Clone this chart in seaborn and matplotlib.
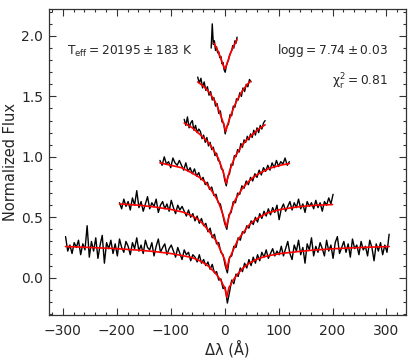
import numpy as np
import pandas as pd
import matplotlib
matplotlib.use("Agg")
import matplotlib.pyplot as plt
from matplotlib.ticker import MultipleLocator
import seaborn as sns

# wavelength grids of the observed lines (start, stop, number of pixels)
grid_h1 = (-295, 305, 151)
grid_h2 = (-195, 201, 100)
grid_h3 = (-120, 120, 61)
grid_h4 = (-75, 75, 51)
grid_h5 = (-50, 49, 34)
grid_h6 = (-25, 23, 25)

# observed normalized flux (offset for display), bottom line first
obs_h1 = [0.34, 0.22, 0.27, 0.20, 0.29, 0.25, 0.31, 0.19, 0.28, 0.23,
          0.43, 0.17, 0.30, 0.22, 0.33, 0.16, 0.27, 0.35, 0.12, 0.29,
          0.24, 0.31, 0.20, 0.28, 0.18, 0.32, 0.25, 0.21, 0.30, 0.26,
          0.19, 0.29, 0.24, 0.33, 0.22, 0.27, 0.20, 0.31, 0.25, 0.23,
          0.29, 0.18, 0.26, 0.32, 0.21, 0.25, 0.28, 0.19, 0.24, 0.27,
          0.22, 0.17, 0.25, 0.20, 0.15, 0.23, 0.19, 0.21, 0.14, 0.19,
          0.17, 0.13, 0.19, 0.12, 0.15, 0.10, 0.13, 0.07, 0.11, 0.04,
          0.05, -0.02, -0.01, -0.09, -0.08, -0.21, -0.12, -0.02, -0.05, 0.03,
          0.01, 0.08, 0.05, 0.12, 0.08, 0.15, 0.10, 0.17, 0.12, 0.19,
          0.14, 0.21, 0.17, 0.23, 0.16, 0.20, 0.24, 0.18, 0.22, 0.19,
          0.26, 0.18, 0.24, 0.30, 0.20, 0.15, 0.27, 0.22, 0.31, 0.19,
          0.25, 0.12, 0.28, 0.23, 0.33, 0.18, 0.26, 0.21, 0.29, 0.24,
          0.18, 0.31, 0.22, 0.27, 0.16, 0.29, 0.34, 0.20, 0.25, 0.30,
          0.21, 0.28, 0.17, 0.32, 0.24, 0.27, 0.19, 0.30, 0.23, 0.26,
          0.18, 0.31, 0.25, 0.14, 0.28, 0.22, 0.29, 0.19, 0.27, 0.21, 0.36]
obs_h2 = [0.62, 0.57, 0.65, 0.59, 0.63, 0.56, 0.66, 0.60, 0.72, 0.58,
          0.63, 0.55, 0.61, 0.67, 0.57, 0.62, 0.59, 0.65, 0.54, 0.60,
          0.63, 0.57, 0.61, 0.55, 0.64, 0.58, 0.53, 0.60, 0.56, 0.59,
          0.55, 0.51, 0.56, 0.50, 0.53, 0.47, 0.51, 0.45, 0.49, 0.43,
          0.45, 0.38, 0.41, 0.33, 0.36, 0.28, 0.29, 0.21, 0.19, 0.10,
          0.04, 0.17, 0.18, 0.26, 0.25, 0.33, 0.31, 0.38, 0.37, 0.43,
          0.41, 0.47, 0.44, 0.50, 0.46, 0.53, 0.49, 0.55, 0.51, 0.57,
          0.52, 0.58, 0.54, 0.60, 0.48, 0.57, 0.61, 0.55, 0.59, 0.63,
          0.56, 0.62, 0.58, 0.65, 0.57, 0.61, 0.54, 0.63, 0.59, 0.62,
          0.57, 0.64, 0.58, 0.62, 0.55, 0.63, 0.60, 0.66, 0.61, 0.69]
obs_h3 = [0.97, 0.93, 1.00, 0.94, 0.96, 0.91, 0.99, 0.95, 0.93, 0.97,
          0.93, 0.89, 0.95, 0.88, 0.91, 0.86, 0.90, 0.84, 0.87, 0.81,
          0.83, 0.77, 0.79, 0.73, 0.75, 0.68, 0.69, 0.62, 0.61, 0.53,
          0.45, 0.40, 0.52, 0.54, 0.63, 0.62, 0.70, 0.69, 0.76, 0.74,
          0.80, 0.77, 0.83, 0.80, 0.86, 0.83, 0.89, 0.85, 0.91, 0.88,
          0.93, 0.89, 0.95, 0.91, 0.97, 0.92, 0.96, 0.94, 0.99, 0.93, 0.96]
obs_h4 = [1.31, 1.26, 1.33, 1.24, 1.28, 1.30, 1.22, 1.26, 1.20, 1.23,
          1.21, 1.15, 1.18, 1.12, 1.16, 1.09, 1.12, 1.06, 1.08, 1.01,
          1.03, 0.97, 0.96, 0.90, 0.89, 0.81, 0.76, 0.84, 0.86, 0.94,
          0.93, 1.01, 1.00, 1.06, 1.04, 1.11, 1.08, 1.14, 1.12, 1.17,
          1.14, 1.19, 1.16, 1.22, 1.18, 1.24, 1.20, 1.26, 1.23, 1.28, 1.30]
obs_h5 = [1.66, 1.61, 1.65, 1.57, 1.62, 1.55, 1.58, 1.51, 1.54, 1.47,
          1.49, 1.42, 1.44, 1.36, 1.38, 1.29, 1.28, 1.19, 1.25, 1.27,
          1.35, 1.34, 1.42, 1.41, 1.48, 1.47, 1.53, 1.50, 1.57, 1.54,
          1.60, 1.58, 1.64, 1.62]
obs_h6 = [1.90, 2.10, 1.93, 1.96, 1.88, 1.91, 1.86, 1.87, 1.82, 1.83,
          1.77, 1.78, 1.72, 1.70, 1.75, 1.78, 1.80, 1.84, 1.86, 1.88,
          1.92, 1.90, 1.96, 1.94, 1.99]

# best-fit model profiles
mod_x_h1 = [-295, -250, -200, -160, -130, -100, -75, -60, -50, -40, -30, -20, -15, -10,
            -6, -3, 0, 2, 4, 6, 8, 11, 14, 19, 24, 34, 44, 54, 64, 79, 104, 134, 164,
            204, 254, 305]
mod_y_h1 = [0.258, 0.25, 0.24, 0.228, 0.216, 0.20, 0.18, 0.165, 0.148, 0.125, 0.095,
            0.05, 0.025, -0.005, -0.03, -0.06, -0.08, -0.12, -0.16, -0.12, -0.08, -0.06,
            -0.03, 0.0, 0.03, 0.08, 0.115, 0.14, 0.16, 0.18, 0.20, 0.215, 0.228, 0.24,
            0.25, 0.258]
mod_x_h2 = [-195, -160, -130, -100, -75, -60, -50, -40, -30, -20, -15, -10, -6, -3, 0,
            2, 4, 6, 8, 11, 14, 19, 24, 34, 44, 54, 64, 79, 104, 134, 164, 200]
mod_y_h2 = [0.61, 0.60, 0.585, 0.565, 0.54, 0.51, 0.485, 0.445, 0.39, 0.33, 0.30, 0.25,
            0.21, 0.18, 0.15, 0.11, 0.07, 0.11, 0.15, 0.18, 0.21, 0.26, 0.31, 0.37, 0.43,
            0.47, 0.50, 0.535, 0.565, 0.585, 0.598, 0.605]
mod_x_h3 = [-120, -100, -80, -60, -45, -35, -25, -17, -12, -7, -3, 0, 3, 6, 9, 13, 18,
            23, 33, 43, 53, 63, 83, 103, 120]
mod_y_h3 = [0.95, 0.93, 0.91, 0.865, 0.825, 0.785, 0.725, 0.67, 0.63, 0.57, 0.52, 0.47,
            0.42, 0.47, 0.52, 0.57, 0.63, 0.67, 0.74, 0.79, 0.83, 0.86, 0.905, 0.93, 0.945]
mod_x_h4 = [-75, -60, -47, -37, -27, -17, -12, -7, -3, 0, 3, 6, 9, 13, 18, 23, 33, 43,
            53, 63, 75]
mod_y_h4 = [1.28, 1.24, 1.19, 1.15, 1.10, 1.03, 0.99, 0.93, 0.88, 0.83, 0.78, 0.83, 0.88,
            0.93, 0.99, 1.03, 1.10, 1.15, 1.19, 1.23, 1.265]
mod_x_h5 = [-50, -38, -28, -18, -13, -8, -4, -1, 2, 5, 8, 12, 17, 22, 32, 42, 48]
mod_y_h5 = [1.62, 1.58, 1.53, 1.46, 1.41, 1.35, 1.30, 1.26, 1.21, 1.26, 1.30, 1.35, 1.41,
            1.46, 1.54, 1.60, 1.625]
mod_x_h6 = [-20, -15, -10, -6, -3, -1, 1, 3, 5, 8, 11, 15, 19, 23]
mod_y_h6 = [1.94, 1.90, 1.85, 1.80, 1.76, 1.74, 1.73, 1.755, 1.78, 1.82, 1.86, 1.90,
            1.935, 1.97]

teff_label = r'$\mathregular{T_{eff} = 20195 \pm 183\ K}$'
logg_label = r'$\mathregular{logg = 7.74 \pm 0.03}$'
chi_label = r'$\mathregular{\chi_r^2 = 0.81}$'

sns.set_style("ticks")
plt.rcParams['font.family'] = ['DejaVu Sans']

fig = plt.figure(figsize=(4.15, 3.61), dpi=100)
ax = fig.add_axes([0.119, 0.127, 0.859, 0.847])

grids = [grid_h1, grid_h2, grid_h3, grid_h4, grid_h5, grid_h6]
observed = [obs_h1, obs_h2, obs_h3, obs_h4, obs_h5, obs_h6]
models = [(mod_x_h1, mod_y_h1), (mod_x_h2, mod_y_h2), (mod_x_h3, mod_y_h3),
          (mod_x_h4, mod_y_h4), (mod_x_h5, mod_y_h5), (mod_x_h6, mod_y_h6)]

for (start, stop, n), flux, (mx, my) in zip(grids, observed, models):
    obs = pd.DataFrame({'dlam': np.linspace(start, stop, n), 'flux': flux})
    sns.lineplot(data=obs, x='dlam', y='flux', color='black', lw=1.0,
                 estimator=None, sort=False, ax=ax)
    sns.lineplot(x=mx, y=my, color='red', lw=1.2, estimator=None, sort=False, ax=ax)

ax.set_xlim(-325, 336)
ax.set_ylim(-0.31, 2.22)
ax.xaxis.set_major_locator(MultipleLocator(100))
ax.xaxis.set_minor_locator(MultipleLocator(20))
ax.yaxis.set_major_locator(MultipleLocator(0.5))
ax.yaxis.set_minor_locator(MultipleLocator(0.1))
ax.tick_params(which='both', direction='in', top=True, right=True, labelsize=10,
               color='#333333')
ax.tick_params(which='major', length=5, width=0.8)
ax.tick_params(which='minor', length=2.5, width=0.8)
ax.tick_params(axis='x', which='major', pad=6.5)
ax.tick_params(axis='y', which='major', pad=4.5)
for s in ax.spines.values():
    s.set_color('#333333')
    s.set_linewidth(0.9)

ax.set_xlabel('Δλ (Å)', fontsize=10.5, labelpad=1)
ax.set_ylabel('Normalized Flux', fontsize=10.5, labelpad=2)

ax.text(0.049, 0.864, teff_label, transform=ax.transAxes, fontsize=8.8, va='center')
ax.text(0.95, 0.864, logg_label, transform=ax.transAxes, fontsize=8.8, va='center',
        ha='right')
ax.text(0.95, 0.762, chi_label, transform=ax.transAxes, fontsize=8.8, va='center',
        ha='right')

fig.savefig('out.png', dpi=100)
